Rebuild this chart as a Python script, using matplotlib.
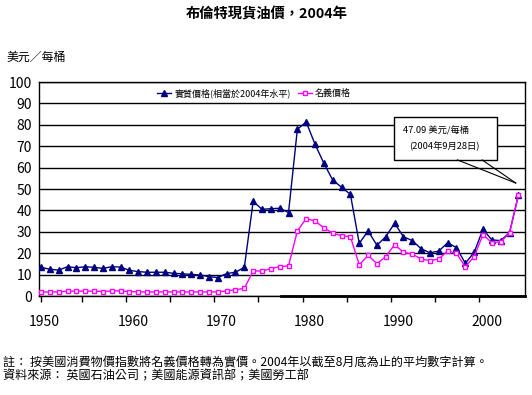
import numpy as np
import matplotlib
matplotlib.use("Agg")
import matplotlib.pyplot as plt

plt.rcParams['font.family'] = ['Noto Sans CJK TC', 'DejaVu Sans']

years = list(range(1950, 2005))

# 實質價格 (相當於2004年水平)
real_price = [13.4, 12.5, 12.1, 13.7, 13.2, 13.7, 13.4, 12.9, 13.7, 13.5,
              12.0, 11.4, 11.1, 11.1, 11.1, 10.6, 10.4, 10.1, 9.8, 9.1,
              8.6, 10.5, 11.1, 13.4, 44.2, 40.5, 40.8, 41.0, 39.0, 77.9,
              81.3, 70.9, 62.0, 54.2, 50.8, 47.5, 24.6, 30.4, 23.7, 27.7,
              34.0, 27.7, 25.9, 22.1, 20.2, 21.0, 24.9, 22.6, 15.3, 20.4,
              31.2, 26.2, 25.9, 29.6, 47.0]

# 名義價格
nominal_price = [1.9, 1.9, 1.9, 2.3, 2.3, 2.3, 2.3, 2.1, 2.4, 2.4,
                 2.1, 1.9, 1.9, 1.9, 1.9, 1.9, 1.9, 1.9, 1.9, 1.9,
                 1.9, 2.4, 2.9, 3.6, 11.7, 11.7, 12.8, 13.7, 14.1, 30.4,
                 36.2, 35.0, 31.9, 29.3, 28.2, 27.7, 14.6, 19.0, 15.1, 18.4,
                 24.0, 20.4, 19.6, 17.3, 16.5, 17.3, 21.0, 19.9, 13.7, 18.4,
                 28.7, 24.9, 25.4, 29.3, 47.1]

decade_labels = ['1950', '1960', '1970', '1980', '1990', '2000']

fig = plt.figure(figsize=(5.32, 3.95), dpi=100)
ax = fig.add_axes([0.0733, 0.2506, 0.9135, 0.5418])

ax.plot(years, real_price, color='#000080', lw=1, marker='^', ms=3.8,
        mfc='#000080', mec='#000080', label='實質價格(相當於2004年水平)', zorder=3)
ax.plot(years, nominal_price, color='#FF00FF', lw=1, marker='s', ms=3.4,
        mfc='white', mec='#FF00FF', mew=1, label='名義價格', zorder=4)

ax.set_ylim(0, 100)
ax.set_xlim(1949.77, 2004.75)
ax.set_yticks(range(0, 101, 10))
ax.yaxis.grid(True, color='black', lw=1)
ax.set_axisbelow(True)
ax.tick_params(axis='y', length=0, pad=5, labelsize=10)

# ticks between categories, labels at the decades
ax.set_xticks([1950 + 0.4 + 10 * i for i in range(6)], decade_labels)
ax.set_xticks([1950] + [1954.6 + 5 * i for i in range(10)], minor=True)
ax.tick_params(axis='x', which='major', length=0, pad=14, labelsize=10)
ax.tick_params(axis='x', which='minor', length=4, width=1, color='black', direction='out')

for s in ax.spines.values():
    s.set_color('black')
    s.set_linewidth(1)
ax.plot([1977.1, 2004.75], [0, 0], color='black', lw=2, clip_on=False, zorder=5)

leg = ax.legend(loc='center left', bbox_to_anchor=(0.295, 0.764),
                bbox_transform=fig.transFigure, ncol=2, frameon=False,
                fontsize=6.5, handlelength=1.6, handletextpad=0.3,
                columnspacing=0.8, borderaxespad=0, borderpad=0)

# callout box
bx0, bx1, by0, by1 = 1989.9, 2001.55, 63.6, 83.5
ax.add_patch(plt.Rectangle((bx0, by0), bx1 - bx0, by1 - by0, fc='white',
                           ec='black', lw=1, zorder=6))
ax.plot([1997.1, 2003.7], [by0, 52.8], color='black', lw=0.8, zorder=6)
ax.plot([1999.9, 2003.7], [by0, 52.8], color='black', lw=0.8, zorder=6)
ax.text(1990.9, 77.5, '47.09 美元/每桶', fontsize=6.7, va='center', ha='left', zorder=7)
ax.text(1991.6, 69.8, '(2004年9月28日)', fontsize=6.7, va='center', ha='left', zorder=7)

fig.text(0.502, 0.962, '布倫特現貨油價，2004年', fontsize=10.3, fontweight='bold',
         ha='center', va='center')
fig.text(0.013, 0.856, '美元／每桶', fontsize=8.6, ha='left', va='center')
fig.text(0.006, 0.081, '註： 按美國消費物價指數將名義價格轉為實價。2004年以截至8月底為止的平均數字計算。',
         fontsize=8.7, ha='left', va='center')
fig.text(0.006, 0.047, '資料來源： 英國石油公司；美國能源資訊部；美國勞工部',
         fontsize=8.7, ha='left', va='center')

fig.savefig('out.png', dpi=100, facecolor='white')
